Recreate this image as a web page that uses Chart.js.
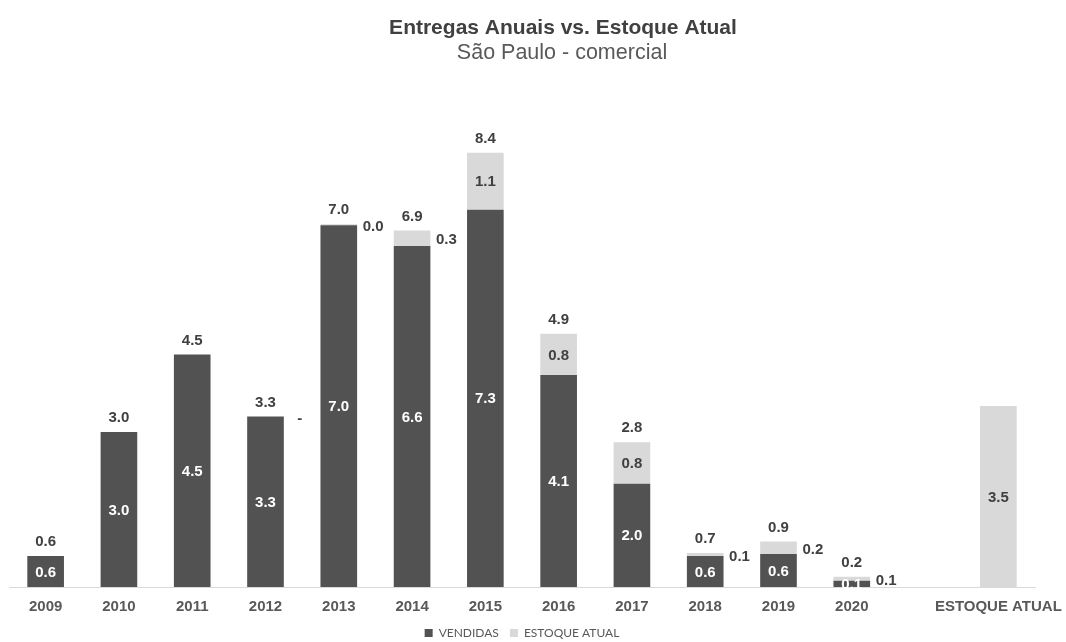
<!DOCTYPE html>
<html>
<head>
<meta charset="utf-8">
<script src="https://cdn.jsdelivr.net/npm/chart.js@4"></script>
<style>
  body { margin: 0; background: #fff; }
</style>
</head>
<body>
<canvas id="myChart" width="1066" height="642"></canvas>
<script>
const categories = ["2009", "2010", "2011", "2012", "2013", "2014", "2015", "2016", "2017", "2018", "2019", "2020", "", "ESTOQUE ATUAL"];
const vendidas = [0.6, 3.0, 4.5, 3.3, 7.0, 6.6, 7.3, 4.1, 2.0, 0.6, 0.64, 0.12, null, null];
const estoque = [null, null, null, 0, 0.02, 0.3, 1.1, 0.8, 0.8, 0.06, 0.24, 0.08, null, 3.5];

const titleText = "Entregas Anuais vs. Estoque Atual";
const subtitleText = "São Paulo - comercial";

const DARK = "#525252";
const LIGHT = "#d9d9d9";

const fmt = (v) => (v === 0 ? "-" : v.toFixed(1));

// titles drawn by hand so they can sit off-centre like the original
const titlePlugin = {
  id: "titles",
  afterDraw(chart) {
    const ctx = chart.ctx;
    ctx.save();
    ctx.textAlign = "center";
    ctx.textBaseline = "middle";
    ctx.fillStyle = "#404040";
    ctx.font = "bold 21px 'Liberation Sans', Arial, sans-serif";
    ctx.fillText(titleText, 563, 28);
    ctx.fillStyle = "#595959";
    ctx.font = "21.5px 'Liberation Sans', Arial, sans-serif";
    ctx.fillText(subtitleText, 562, 53);
    ctx.restore();
  },
};

const labelPlugin = {
  id: "barLabels",
  afterDatasetsDraw(chart) {
    const ctx = chart.ctx;
    const m0 = chart.getDatasetMeta(0).data;
    const m1 = chart.getDatasetMeta(1).data;
    ctx.save();
    ctx.font = "bold 15px 'Liberation Sans', Arial, sans-serif";
    ctx.textAlign = "center";
    ctx.textBaseline = "middle";
    categories.forEach((c, i) => {
      const v = vendidas[i];
      const e = estoque[i];
      const b0 = m0[i];
      const b1 = m1[i];
      if (v != null && v > 0) {
        ctx.fillStyle = "#ffffff";
        ctx.fillText(fmt(v), b0.x, (b0.y + b0.base) / 2 + 1);
      }
      if (e != null) {
        const h = b1.base - b1.y;
        ctx.fillStyle = "#404040";
        if (h > 24) {
          ctx.fillText(fmt(e), b1.x, (b1.y + b1.base) / 2 + 1);
        } else {
          ctx.fillText(fmt(e), b1.x + b1.width / 2 + 16, (b1.y + b1.base) / 2 + 2);
        }
      }
      if (v != null) {
        const tot = v + (e || 0);
        const top = Math.min(b0.y, e != null ? b1.y : b0.y);
        ctx.fillStyle = "#404040";
        ctx.fillText(tot.toFixed(1), b0.x, top - 14);
      }
    });
    ctx.restore();
  },
};

const data = {
  labels: categories,
  datasets: [
    {
      label: "VENDIDAS",
      data: vendidas,
      backgroundColor: DARK,
      barPercentage: 0.5,
      categoryPercentage: 1,
    },
    {
      label: "ESTOQUE ATUAL",
      data: estoque,
      backgroundColor: LIGHT,
      barPercentage: 0.5,
      categoryPercentage: 1,
    },
  ],
};

const config = {
  type: "bar",
  data: data,
  options: {
    responsive: false,
    animation: false,
    devicePixelRatio: 1,
    layout: {
      padding: { top: 96, left: 9, right: 31, bottom: -7 },
    },
    plugins: {
      title: { display: false },
      tooltip: { enabled: false },
      legend: {
        position: "bottom",
        labels: {
          boxWidth: 8,
          boxHeight: 8,
          padding: 11,
          color: "#595959",
          font: { family: "Lato, 'Open Sans', sans-serif", size: 12 },
        },
      },
    },
    scales: {
      x: {
        stacked: true,
        grid: { display: false, drawTicks: false },
        border: { display: true, color: "#d9d9d9", width: 1 },
        ticks: {
          color: "#595959",
          font: { family: "'Liberation Sans', Arial, sans-serif", size: 15, weight: "bold" },
          maxRotation: 0,
          autoSkip: false,
          padding: 11,
        },
        afterFit(scale) {
          // the long last label should not squeeze the plot
          scale.height -= 11;
          scale.paddingLeft = 0;
          scale.paddingRight = 0;
        },
      },
      y: {
        stacked: true,
        display: false,
        min: 0,
        max: 9.5,
      },
    },
  },
  plugins: [titlePlugin, labelPlugin],
};

const myChart = new Chart(document.getElementById("myChart").getContext("2d"), config);
</script>
</body>
</html>
